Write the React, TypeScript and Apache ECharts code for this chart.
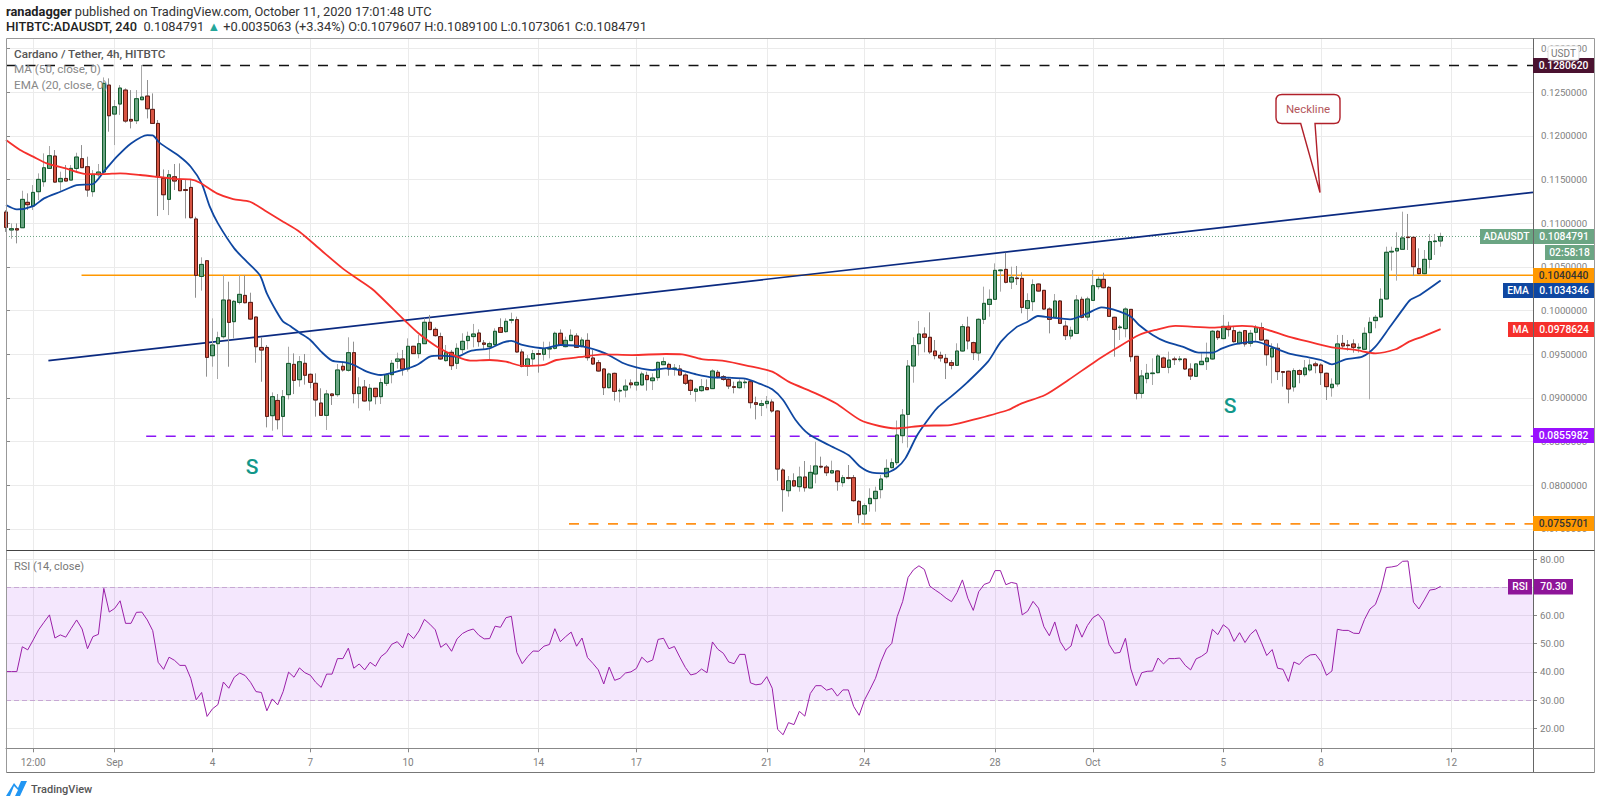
import React, { useEffect, useRef } from "react";
import * as echarts from "echarts";

const opens = [
.11128,.10922,.10937,.10948,.11239,.11196,.11361,.11475,.11628,.11769,
.11475,.11513,.11494,.11628,.11739,.11647,.11361,.11555,.11586,.12582,
.12250,.12365,.12525,.12189,.12174,.12414,.12456,.12304,.12143,.11513,
.11273,.11532,.11502,.11384,.11410,.11048,.10390,.10570,.09482,.09620,
.09700,.10120,.09872,.10093,.10173,.10093,.09925,.09577,.09577,.08795,
.08970,.08787,.09036,.09383,.09207,.09395,.09269,.09166,.08940,.08799,
.09044,.09036,.09361,.09315,.09517,.09048,.09124,.08964,.09109,.09013,
.09166,.09265,.09418,.09445,.09330,.09590,.09506,.09620,.09865,.09784,
.09701,.09426,.09521,.09395,.09552,.09655,.09701,.09742,.09628,.09586,
.09609,.09804,.09758,.09888,.09895,.09525,.09361,.09445,.09506,.09498,
.09559,.09567,.09739,.09586,.09655,.09708,.09594,.09658,.09456,.09402,
.09330,.09116,.09280,.09078,.09089,.09170,.09147,.09147,.09257,.09196,
.09231,.09379,.09383,.09334,.09330,.09261,.09200,.09074,.09082,.09116,
.09105,.09292,.09242,.09211,.09127,.09116,.09173,.09185,.08944,.08914,
.08933,.08952,.08849,.08173,.07936,.08050,.07982,.08093,.07967,.08127,
.08215,.08207,.08139,.08162,.08028,.08085,.08085,.07814,.07669,.07787,
.07845,.07948,.08096,.08200,.08257,.08566,.08810,.09364,.09620,.09731,
.09693,.09536,.09486,.09452,.09402,.09372,.09536,.09811,.09632,.09513,
.09899,.10070,.10128,.10456,.10471,.10326,.10372,.10368,.10025,.10101,
.10303,.10231,.10017,.09922,.10109,.09822,.09708,.09738,.10128,.09925,
.10116,.10273,.10357,.10265,.09922,.09803,.09792,.10013,.09475,.09051,
.09220,.09277,.09288,.09456,.09349,.09445,.09437,.09445,.09330,.09246,
.09380,.09414,.09445,.09762,.09678,.09819,.09769,.09620,.09769,.09624,
.09750,.09804,.09659,.09468,.09567,.09300,.09304,.09124,.09311,.09265,
.09319,.09388,.09376,.09281,.09116,.09159,.09624,.09605,.09617,.09570,
.09556,.09746,.09884,.09926,.10132,.10670,.10682,.10701,.10842,.10838,
.10479,.10422,.10586,.10789,.10796];

const closes = [
.10952,.10937,.10922,.11273,.11212,.11353,.11502,.11635,.11773,.11471,
.11513,.11483,.11628,.11758,.11636,.11380,.11555,.11586,.12602,.12231,
.12334,.12548,.12170,.12170,.12426,.12445,.12311,.12143,.11532,.11326,
.11555,.11483,.11372,.11376,.11063,.10402,.10528,.09463,.09605,.09688,
.10120,.09864,.10105,.10185,.10089,.09902,.09585,.09547,.08787,.09013,
.08749,.09013,.09394,.09200,.09413,.09258,.09177,.08975,.08799,.09044,
.09025,.09319,.09319,.09517,.09048,.09124,.08964,.09109,.09013,.09174,
.09265,.09395,.09445,.09330,.09590,.09506,.09620,.09865,.09781,.09712,
.09445,.09517,.09368,.09567,.09647,.09704,.09731,.09643,.09613,.09620,
.09762,.09750,.09876,.09895,.09525,.09361,.09445,.09506,.09498,.09563,
.09567,.09739,.09601,.09658,.09716,.09578,.09662,.09460,.09387,.09307,
.09116,.09273,.09074,.09085,.09135,.09150,.09177,.09273,.09208,.09227,
.09406,.09414,.09330,.09341,.09261,.09166,.09085,.09100,.09127,.09093,
.09307,.09242,.09211,.09135,.09120,.09180,.09180,.08944,.08925,.08933,
.08960,.08849,.08184,.07948,.08050,.07990,.08093,.07970,.08146,.08219,
.08207,.08142,.08165,.08039,.08085,.08078,.07822,.07661,.07764,.07848,
.07929,.08070,.08192,.08257,.08574,.08803,.09364,.09597,.09731,.09693,
.09525,.09483,.09456,.09402,.09372,.09536,.09815,.09651,.09517,.09899,
.10082,.10128,.10460,.10464,.10323,.10380,.10365,.10036,.10113,.10296,
.10223,.10017,.09899,.10109,.09853,.09712,.09773,.10120,.09922,.10132,
.10284,.10357,.10261,.09933,.09784,.09811,.10017,.09471,.09051,.09250,
.09281,.09284,.09479,.09349,.09433,.09437,.09445,.09330,.09250,.09388,
.09418,.09456,.09762,.09689,.09819,.09781,.09643,.09750,.09617,.09739,
.09804,.09662,.09494,.09567,.09300,.09292,.09101,.09311,.09269,.09342,
.09376,.09368,.09288,.09128,.09155,.09617,.09594,.09598,.09578,.09578,
.09739,.09865,.09922,.10128,.10667,.10678,.10712,.10831,.10835,.10502,
.10422,.10586,.10789,.10796,.10848];

const lows = [
.1090,.10822,.10769,.10948,.11151,.11151,.11265,.11418,.11628,.11464,
.11372,.11483,.11494,.1159,.11636,.11303,.11303,.11532,.11571,.12048,
.11895,.12239,.12151,.12086,.12136,.1241,.1220,.12136,.11082,.11151,
.11093,.1138,.11368,.11055,.11055,.10146,.10227,.09242,.09356,.09215,
.0968,.09356,.0968,.1007,.10082,.0989,.09402,.09184,.08661,.08623,
.08638,.08562,.08982,.09043,.09127,.09151,.09109,.08784,.08792,.08631,
.08918,.09013,.0930,.0930,.08937,.0888,.08956,.08853,.08925,.08929,
.09135,.09166,.09334,.09254,.0930,.09502,.09452,.09616,.09777,.09701,
.09433,.09414,.09319,.0933,.0951,.09555,.09578,.09586,.09548,.09441,
.09586,.09746,.09746,.09853,.09517,.09349,.0925,.09376,.09288,.09426,
.09452,.09555,.09594,.09578,.09651,.09571,.09578,.09426,.09376,.09299,
.09032,.09108,.08967,.08948,.09005,.09108,.09082,.09143,.09082,.09089,
.09196,.09376,.09253,.09253,.09253,.09147,.09032,.08956,.0907,.09089,
.0910,.09223,.09196,.0910,.09051,.09105,.09108,.08879,.08753,.08791,
.08879,.0883,.0805,.07696,.07867,.07982,.07925,.07925,.07963,.0802,
.08192,.08104,.08135,.07936,.07982,.08066,.0781,.07562,.07554,.07696,
.07696,.07848,.08077,.08192,.0823,.0848,.0843,.09173,.09483,.09521,
.09502,.09441,.09414,.09215,.09326,.09368,.09528,.09555,.09433,.09425,
.09845,.09929,.1012,.10216,.10311,.10246,.10292,.09968,.09891,.09994,
.10216,.10006,.09738,.0991,.09845,.09662,.0967,.0973,.0991,.09883,
.10113,.10242,.10254,.09929,.09471,.09662,.09693,.09414,.08982,.08994,
.09166,.09147,.09281,.09345,.09281,.09376,.09414,.09319,.09204,.09242,
.09376,.09319,.09433,.09662,.0967,.09701,.09632,.09613,.09586,.09586,
.09643,.09655,.09368,.09166,.09204,.09128,.08937,.09071,.09166,.09242,
.0930,.09281,.09147,.08975,.09013,.09128,.09567,.0954,.09517,.09517,
.09548,.08983,.09796,.09922,.10128,.10457,.10342,.10693,.10693,.10395,
.10414,.10414,.10483,.10636,.10731];

const highs = [
.1115,.10998,.10998,.11372,.11342,.11437,.11571,.1180,.11884,.11838,
.1159,.11666,.11666,.11807,.11895,.11762,.11609,.11678,.1267,.12659,
.12411,.12582,.12544,.12525,.12525,.12812,.1264,.12487,.12182,.11616,
.11609,.11678,.11685,.11494,.11494,.11074,.10609,.10578,.0991,.09757,
.10406,.1033,.1012,.10406,.10406,.10204,.09929,.09692,.09604,.09062,
.09043,.09089,.09585,.09509,.09478,.09502,.0928,.0928,.09109,.0909,
.09051,.09387,.09414,.09693,.09643,.09235,.09204,.09158,.09109,.09223,
.0928,.09433,.09517,.09548,.09681,.09594,.0972,.0991,.09949,.09807,
.09746,.09605,.09548,.09624,.09739,.09758,.09846,.09784,.09662,.09643,
.09796,.0991,.0991,.09975,.0993,.09555,.0949,.09548,.09548,.09643,
.09643,.09758,.09784,.09701,.09784,.09739,.09693,.09739,.09547,.09433,
.09337,.09288,.09288,.09108,.09211,.09211,.09471,.09299,.09299,.0928,
.09414,.09463,.09402,.09387,.09376,.0928,.09211,.09116,.09215,.09211,
.09326,.09318,.09261,.09234,.09185,.09211,.09211,.09204,.09013,.08975,
.0902,.08982,.0886,.08192,.08104,.08135,.08211,.08276,.0823,.08497,
.08326,.0823,.0828,.08173,.08116,.0823,.08116,.07829,.07791,.07963,
.07982,.08116,.08295,.08306,.0874,.08872,.09433,.09693,.0988,.09807,
.09979,.09662,.09528,.09502,.09433,.09624,.09845,.09929,.09643,.0991,
.10273,.10242,.1054,.10471,.10662,.10502,.1051,.10437,.10197,.10357,
.10311,.10235,.10036,.10189,.1012,.09883,.09815,.10177,.10158,.10158,
.10464,.10387,.10433,.1028,.09929,.09834,.10036,.10017,.09479,.09318,
.09388,.09452,.09502,.09471,.09529,.09471,.09479,.09452,.09395,.09395,
.0951,.09632,.09777,.09777,.09949,.09872,.09823,.09769,.09777,.09777,
.09834,.09861,.0967,.09624,.09624,.09304,.09311,.09338,.09326,.09433,
.09441,.09414,.09395,.09288,.09223,.0972,.0972,.09662,.0967,.09624,
.09807,.09922,.09949,.10254,.10731,.10731,.10896,.11132,.11106,.10846,
.10712,.10693,.10876,.10876,.10891];

const rsiValues = [
40.1,40.1,40.1,48.9,47.8,51.3,54.9,57.6,60.2,52,
53.1,52.3,55.4,58.4,55.2,48.2,52.5,53.3,69.6,61.2,
62.5,65.2,57.2,57.2,61.1,61.2,58.4,54.6,43.4,40.9,
45.2,44.1,42.3,42.3,37.7,30.1,32.7,24.2,26.9,28.4,
36.4,34.2,38.1,39.6,38.7,36.3,33,32.7,26.2,30.4,
28.3,33,39.9,38.1,41.4,39.7,38.8,36.3,34.5,39.2,
39.2,44.7,44.7,48.4,41.3,42.8,40.7,43.4,42,45.4,
46.9,49.8,50.7,48.5,53.7,51.8,54.5,58.6,56.9,54.9,
48.7,50.1,47.3,51.7,53.6,54.6,55.2,53,51.7,51.8,
56.2,55.8,59.2,59.7,46.9,42.9,45.4,47.4,47.3,49.1,
49.7,55.3,50.7,52.5,54.1,49.1,52,45.1,43,40.7,
35.7,41.7,37,37.7,39.6,40,41.2,45.2,43.4,44.2,
51.5,51.9,48.2,49,45.2,41.6,38.9,39.4,41,39.7,
50.6,48,46.6,43.5,42.9,46.2,46.2,36.1,35.4,35.7,
38.3,34.2,19.6,17.7,22,21.3,26,24.3,32.3,35.1,
35.1,33.5,34.1,31.4,33.6,33.6,27.7,24.6,30.1,33.8,
37.7,43.6,48.1,50.1,59.6,64.9,73.5,76.2,77.6,76.3,
70.4,69,67.7,66.1,64.9,68.1,72.6,66.1,61.8,68.4,
71,71.7,75.9,75.9,70.9,71.7,71.3,60.2,61.5,65,
62.6,56,52.8,57.7,50.7,47.6,49.2,56.9,52.3,56.4,
59.2,60.4,58,49.7,46.6,46.9,51.9,41,35.1,39.7,
40.2,40.3,44.9,42.8,44.7,44.7,44.9,42.3,40.7,44.6,
45.5,46.9,55.1,53.2,56.7,55.2,50.8,53.9,50.4,53.3,
55,50.5,45.8,47.9,41.3,40.9,36.6,43.5,42.6,44.8,
46,46.2,43.6,38.8,40.3,55.1,54.7,54.7,53.7,53.6,
58.6,62.3,63.9,69,77,77.2,77.6,79.2,79.3,64.7,
62.3,65.5,69,69.3,70.3];

// [candle position, price]
const emaPoints = [
[0,.11208],[2,.11158],[5,.11196],[7,.11284],[10,.1136],[13,.11437],[16,.11449],[18,.1159],[20.4,.11762],[23,.11914],[26,.1201],[27,.12006],[28.3,.1192],[32,.11762],[34,.11647],[36,.11456],[37.5,.11189],[39,.10998],[42,.10712],[44.3,.10559],[46.7,.10406],[48,.10196],[49.8,.09986],[51,.09872],[52.3,.09823],[54,.09746],[56,.09662],[58,.09529],[60,.09426],[62.4,.09406],[64,.09376],[66.4,.0930],[69,.09261],[70.7,.0928],[73,.09319],[75.6,.09376],[78,.09471],[80,.09483],[83,.09471],[85.4,.09536],[89,.09567],[91.5,.09636],[93,.09651],[95,.09605],[99,.09567],[102,.09605],[106.3,.09586],[110.3,.09509],[113.4,.09402],[116,.09349],[119,.09318],[121.4,.09337],[124,.09318],[127,.09269],[130,.09234],[133,.0923],[136,.09219],[138.5,.09166],[141,.09097],[143,.08975],[145.3,.08746],[147.7,.08585],[151.4,.08459],[155,.08345],[157.2,.0821],[159.4,.08142],[161.6,.08135],[163.8,.08192],[165.5,.08306],[167.7,.08574],[170.3,.08803],[171.6,.08898],[173.9,.09013],[176.9,.09177],[180.7,.09414],[183.1,.09643],[185.9,.09807],[188,.09872],[189.9,.09937],[192,.09922],[195.8,.09899],[199,.09967],[201.6,.10036],[204.7,.09994],[207,.09929],[208.5,.09834],[211,.0972],[213.4,.09643],[216.5,.09586],[219.5,.09517],[222,.09517],[223.8,.09567],[226,.09613],[230,.09643],[232.3,.09598],[236,.0951],[239,.09471],[242,.09433],[244,.09384],[246.5,.09441],[249.6,.09471],[252,.09586],[254.5,.09796],[257,.1001],[258.4,.1012],[260.2,.10178],[264,.10343]];

const maPoints = [
[0,.11952],[2.6,.11838],[5,.11762],[7.5,.11685],[11,.11628],[14.8,.11563],[18,.11563],[21,.11571],[24.7,.11552],[27.7,.11532],[31.4,.11506],[33.9,.11502],[35.7,.11464],[38.8,.11342],[41.8,.11277],[44.9,.11246],[48,.11132],[51,.11017],[54,.10903],[58,.1069],[62,.1048],[65,.1035],[67.6,.10235],[73.4,.09884],[75.9,.09739],[79.3,.09586],[83,.09471],[85.4,.09426],[89,.09433],[92,.09414],[95,.09365],[99,.09376],[101.3,.09433],[106.3,.09471],[109.7,.09498],[115.2,.0949],[121.4,.09502],[124.4,.09498],[128,.09444],[131.8,.09425],[136.7,.09364],[141,.09299],[144,.09185],[149,.09051],[152.7,.08937],[157.2,.08745],[160.7,.08677],[163.8,.0865],[168.6,.0868],[173.8,.08688],[179,.08765],[184.4,.0886],[186.9,.08937],[191.2,.09032],[195.5,.09204],[200.4,.09414],[204,.09555],[208.5,.0972],[211.5,.09777],[215.2,.09823],[222,.09804],[227.5,.09823],[231.2,.09796],[236,.09701],[240.4,.09632],[244,.09578],[248.3,.09548],[252,.0951],[255.7,.09556],[258.2,.09643],[260.7,.09701],[264,.09786]];

const tickIndexes = [5, 20, 38, 56, 74, 98, 116, 140, 158, 182, 200, 224, 242, 266];
const tickLabels = ["12:00", "Sep", "4", "7", "10", "14", "17", "21", "24", "28", "Oct", "5", "8", "12"];
const priceTicks = [0.075, 0.08, 0.085, 0.09, 0.095, 0.1, 0.105, 0.11, 0.115, 0.12, 0.125, 0.13];
const rsiTicks = [20, 30, 40, 50, 60, 70, 80];

const lastPrice = 0.1084791;
const resistanceTop = 0.128062;
const supportPurple = 0.0855982;
const supportOrange = 0.0755701;
const horizontalLevel = 0.104044;
const necklineX = [7.8, 281];
const necklineY = [0.09425, 0.11354];

const SLOTS = 282;
const FONT = "Roboto, 'Open Sans', sans-serif";
const RIGHT = 1594;

function levelSeries(name: string, fromX: number, y: number, lineStyle: any) {
  return {
    name, type: "line", xAxisIndex: 2, yAxisIndex: 0, showSymbol: false, silent: true, z: 4,
    data: [[fromX, y], [SLOTS - 1, y]], lineStyle,
  };
}

function box(x: number, y: number, w: number, h: number, fill: string, text: string, color: string) {
  return [
    { type: "rect", z: 50, shape: { x, y, width: w, height: h }, style: { fill } },
    {
      type: "text", z: 51, x: x + w / 2, y: y + h / 2,
      style: { text, fill: color, font: `500 10.3px ${FONT}`, textAlign: "center", textVerticalAlign: "middle" },
    },
  ];
}

function frameLine(x1: number, y1: number, x2: number, y2: number, stroke = "#999") {
  return { type: "line", z: 45, shape: { x1, y1, x2, y2 }, style: { stroke, lineWidth: 1 } };
}

export default function App() {
  const ref = useRef<HTMLDivElement>(null);
  useEffect(() => {
    document.body.style.margin = "0";
    document.body.style.background = "#fff";
    const chart = echarts.init(ref.current!, undefined, { renderer: "svg" });

    echarts.graphic.registerShape("calloutShape", echarts.graphic.extendPath(
      "M1282 94.5 L1334 94.5 Q1340 94.5 1340 100.5 L1340 117.5 Q1340 123.5 1334 123.5 L1315 123.5 L1320 192.5 L1300.7 123.5 L1282 123.5 Q1276 123.5 1276 117.5 L1276 100.5 Q1276 94.5 1282 94.5 Z", {}));
    echarts.graphic.registerShape("tvMark", echarts.graphic.extendPath(
      "M6 796 L14 783 L18 788 L21 781 L27 781 L20 796 L15 796 L18 790 L14 786 L10 796 Z", {}));

    const categories = Array.from({ length: SLOTS }, (_, i) => String(i));
    const wickData = opens.map((o, i) => [o, closes[i], lows[i], highs[i]]);
    const bodyData = opens.map((o, i) => [o, closes[i], Math.min(o, closes[i]), Math.max(o, closes[i])]);
    const labelOf = (v: string) => {
      const k = tickIndexes.indexOf(Number(v));
      return k >= 0 ? tickLabels[k] : "";
    };
    const isTick = (i: number) => tickIndexes.includes(i);
    const gridStyle = { color: "#ebebeb", width: 1 };

    const xBase = (gridIndex: number, showLabels: boolean) => ({
      type: "category", gridIndex, data: categories, boundaryGap: false,
      axisLine: { show: showLabels, lineStyle: { color: "#888" } },
      axisTick: { show: showLabels, interval: (i: number) => isTick(i), length: 4, lineStyle: { color: "#888" } },
      axisLabel: showLabels
        ? { show: true, interval: (i: number) => isTick(i), formatter: (v: string) => labelOf(v), color: "#808080", fontSize: 10, fontFamily: FONT, margin: 9, hideOverlap: false }
        : { show: false },
      splitLine: { show: true, interval: (i: number) => isTick(i), lineStyle: gridStyle },
    });

    chart.setOption({
      animation: false,
      backgroundColor: "#fff",
      grid: [
        { left: 6, width: 1527, top: 38.7, height: 511.6, containLabel: false },
        { left: 6, width: 1527, top: 550.3, height: 198, containLabel: false },
      ],
      xAxis: [
        xBase(0, false),
        xBase(1, true),
        { type: "value", gridIndex: 0, min: 0, max: SLOTS - 1, show: false },
      ],
      yAxis: [
        {
          type: "value", gridIndex: 0, position: "right", min: 0.072532, max: 0.131134, scale: true,
          axisLine: { show: false },
          axisTick: { show: true, customValues: priceTicks, length: 4, lineStyle: { color: "#888" } },
          axisLabel: { customValues: priceTicks, formatter: (v: number) => v.toFixed(7), color: "#808080", fontSize: 9.7, fontFamily: FONT, margin: 8 },
          splitLine: { show: true, lineStyle: gridStyle },
        },
        {
          type: "value", gridIndex: 1, position: "right", min: 12.9, max: 83.1,
          axisLine: { show: false },
          axisTick: { show: true, customValues: rsiTicks, length: 4, lineStyle: { color: "#888" } },
          axisLabel: { customValues: rsiTicks, formatter: (v: number) => v.toFixed(2), color: "#808080", fontSize: 9.7, fontFamily: FONT, margin: 7 },
          splitLine: { show: true, lineStyle: gridStyle },
        },
      ],
      series: [
        levelSeries("Last", 0, lastPrice, { color: "#6ba583", width: 1, type: [1, 2] }),
        levelSeries("Top", 0, resistanceTop, { color: "#111", width: 1.7, type: [10, 9.5] }),
        levelSeries("Purple", 25.8, supportPurple, { color: "#8a14f5", width: 1.7, type: [10, 9.5] }),
        levelSeries("Orange dashed", 103.6, supportOrange, { color: "#ff9119", width: 1.7, type: [10, 9.5] }),
        levelSeries("Orange", 13.9, horizontalLevel, { color: "#ff9800", width: 1.5 }),
        {
          name: "Neckline", type: "line", xAxisIndex: 2, yAxisIndex: 0, showSymbol: false, silent: true, z: 4,
          data: necklineX.map((x, i) => [x, necklineY[i]]),
          lineStyle: { color: "#0b2a80", width: 1.7 },
        },
        {
          name: "Wicks", type: "candlestick", xAxisIndex: 0, yAxisIndex: 0, barWidth: 4, z: 5, silent: true,
          data: wickData,
          itemStyle: { color: "#6ba583", color0: "#d75442", borderColor: "#a8a8a8", borderColor0: "#909090", borderWidth: 1 },
        },
        {
          name: "Bodies", type: "candlestick", xAxisIndex: 0, yAxisIndex: 0, barWidth: 4, z: 6, silent: true,
          data: bodyData,
          itemStyle: { color: "#6ba583", color0: "#d75442", borderColor: "#0f5a2a", borderColor0: "#5b1a13", borderWidth: 1 },
        },
        {
          name: "EMA", type: "line", xAxisIndex: 2, yAxisIndex: 0, showSymbol: false, silent: true, z: 7, smooth: 0.25,
          data: emaPoints, lineStyle: { color: "#0f47a1", width: 1.8 },
        },
        {
          name: "MA", type: "line", xAxisIndex: 2, yAxisIndex: 0, showSymbol: false, silent: true, z: 7, smooth: 0.25,
          data: maPoints, lineStyle: { color: "#f5302c", width: 1.8 },
        },
        {
          name: "RSI", type: "line", xAxisIndex: 1, yAxisIndex: 1, showSymbol: false, silent: true, z: 5,
          data: rsiValues, lineStyle: { color: "#9a1fa8", width: 1 },
          markArea: {
            silent: true, itemStyle: { color: "rgba(155,39,240,0.11)" },
            data: [[{ yAxis: 70 }, { yAxis: 30 }]],
          },
          markLine: {
            silent: true, symbol: "none", label: { show: false },
            lineStyle: { color: "#c7a8d4", type: [5, 3], width: 1 },
            data: [{ yAxis: 70 }, { yAxis: 30 }],
          },
        },
      ],
      graphic: [
        frameLine(6.5, 38.5, RIGHT + 0.5, 38.5),
        frameLine(6.5, 38.5, 6.5, 772.5),
        frameLine(1533.5, 38.5, 1533.5, 772.5, "#666"),
        frameLine(RIGHT + 0.5, 38.5, RIGHT + 0.5, 772.5),
        frameLine(6.5, 772.5, RIGHT + 0.5, 772.5, "#777"),
        frameLine(6.5, 550.5, RIGHT + 0.5, 550.5, "#444"),
        frameLine(6.5, 748.5, RIGHT + 0.5, 748.5, "#888"),
        {
          type: "text", z: 60, x: 6, y: 11,
          style: {
            text: "{b|ranadagger} published on TradingView.com, October 11, 2020 17:01:48 UTC",
            font: `12.8px ${FONT}`, fill: "#333", textVerticalAlign: "middle",
            rich: { b: { font: `700 12.8px ${FONT}`, fill: "#222" } },
          },
        },
        {
          type: "text", z: 60, x: 6, y: 26,
          style: {
            text: "{b|HITBTC:ADAUSDT, 240}  0.1084791 {g|▲} +0.0035063 (+3.34%) O:0.1079607 H:0.1089100 L:0.1073061 C:0.1084791",
            font: `12.8px ${FONT}`, fill: "#333", textVerticalAlign: "middle",
            rich: { b: { font: `500 12.8px ${FONT}`, fill: "#222" }, g: { font: `12.8px ${FONT}`, fill: "#26a69a" } },
          },
        },
        { type: "text", z: 60, x: 14, y: 54, style: { text: "Cardano / Tether, 4h, HITBTC", font: `500 11.7px ${FONT}`, fill: "#555", textVerticalAlign: "middle" } },
        { type: "text", z: 60, x: 14, y: 69, style: { text: "MA (50, close, 0)", font: `11.7px ${FONT}`, fill: "#888", textVerticalAlign: "middle" } },
        { type: "text", z: 60, x: 14, y: 85, style: { text: "EMA (20, close, 0)", font: `11.7px ${FONT}`, fill: "#888", textVerticalAlign: "middle" } },
        { type: "text", z: 60, x: 14, y: 566, style: { text: "RSI (14, close)", font: `11px ${FONT}`, fill: "#777", textVerticalAlign: "middle" } },
        ...box(1533, 58, 61, 15, "#4a1230", "0.1280620", "#fff"),
        ...box(1480, 229, 53, 15, "#6ba583", "ADAUSDT", "#fff"),
        ...box(1534, 229, 60, 15, "#6ba583", "0.1084791", "#fff"),
        ...box(1545, 245, 49, 15, "#6ba583", "02:58:18", "#fff"),
        ...box(1533, 268, 61, 15, "#ff9800", "0.1040440", "#333"),
        ...box(1503, 283, 30, 15, "#0f47a1", "EMA", "#fff"),
        ...box(1534, 283, 60, 15, "#0f47a1", "0.1034346", "#fff"),
        ...box(1508, 322, 25, 15, "#f5302c", "MA", "#fff"),
        ...box(1534, 322, 60, 15, "#f5302c", "0.0978624", "#fff"),
        ...box(1533, 428, 61, 15, "#9a10ff", "0.0855982", "#fff"),
        ...box(1533, 516, 61, 15, "#ff9800", "0.0755701", "#333"),
        ...box(1508, 579, 24, 15.5, "#8e1599", "RSI", "#fff"),
        ...box(1534, 579, 39, 15.5, "#8e1599", "70.30", "#fff"),
        { type: "rect", z: 52, shape: { x: 1548, y: 46, width: 31, height: 14, r: 2 }, style: { fill: "#fff", stroke: "#ddd", lineWidth: 1 } },
        { type: "text", z: 53, x: 1563.5, y: 53, style: { text: "USDT", font: `10px ${FONT}`, fill: "#777", textAlign: "center", textVerticalAlign: "middle" } },
        { type: "calloutShape", z: 40, x: 0, y: 0, style: { fill: "#fff", stroke: "#b0202a", lineWidth: 1.4 } },
        { type: "text", z: 41, x: 1308, y: 109, style: { text: "Neckline", font: `11.5px ${FONT}`, fill: "#b3565c", textAlign: "center", textVerticalAlign: "middle" } },
        { type: "text", z: 41, x: 252, y: 467, style: { text: "S", font: `500 21px ${FONT}`, fill: "#12978a", textAlign: "center", textVerticalAlign: "middle" } },
        { type: "text", z: 41, x: 1230, y: 406, style: { text: "S", font: `500 21px ${FONT}`, fill: "#12978a", textAlign: "center", textVerticalAlign: "middle" } },
        { type: "tvMark", z: 41, x: 0, y: 0, style: { fill: "#2196f3" } },
        { type: "text", z: 41, x: 31, y: 789, style: { text: "TradingView", font: `500 11px ${FONT}`, fill: "#555", textVerticalAlign: "middle" } },
      ],
    });
    return () => chart.dispose();
  }, []);
  return <div ref={ref} style={{ position: "absolute", left: 0, top: 0, width: 1600, height: 805 }} />;
}
